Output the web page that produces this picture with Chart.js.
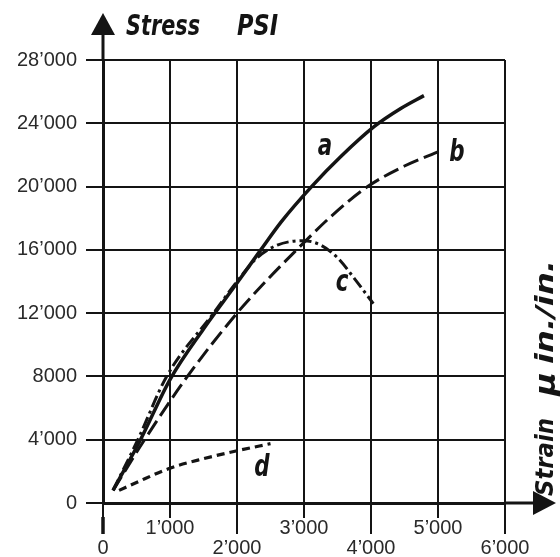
<!DOCTYPE html>
<html><head><meta charset="utf-8">
<script src="https://cdn.jsdelivr.net/npm/chart.js@4/dist/chart.umd.min.js"></script>
<style>html,body{margin:0;padding:0;background:#fff}canvas{display:block}</style>
</head><body>
<canvas id="c" width="560" height="557"></canvas>
<script>
// ---- data ----
const xTickLabels = ['0', '1’000', '2’000', '3’000', '4’000', '5’000', '6’000'];
const xTickRow = [1, 0, 1, 0, 1, 0, 1];   // 0 = upper row, 1 = lower row (staggered labels)
const yTickLabels = ['0', '4’000', '8000', '12’000', '16’000', '20’000', '24’000', '28’000'];
const strainA = [150, 560, 1000, 1500, 2000, 2355, 2660, 3113, 3550, 4050, 4450, 4790];
const stressA = [800, 4000, 7800, 11000, 13900, 16000, 17770, 20000, 21900, 23800, 24950, 25750];
const strainB = [150, 620, 1260, 2000, 2450, 2890, 3400, 3950, 4500, 5030];
const stressB = [800, 4000, 8000, 12000, 14100, 16000, 18100, 20000, 21300, 22250];
const strainC = [150, 520, 950, 1650, 2000, 2300, 2600, 2990, 3250, 3500, 3750, 4035];
const stressC = [800, 4000, 8000, 12000, 14000, 15500, 16300, 16580, 16300, 15500, 14200, 12600];
const strainD = [240, 500, 1000, 1500, 2000, 2500];
const stressD = [800, 1300, 2200, 2800, 3300, 3750];
const curveNames = ['a', 'b', 'c', 'd'];
const curveNameStrain = [3313, 5284, 3567, 2373];
const curveNameStress = [22500, 22100, 13900, 2210];

const pts = (xs, ys) => xs.map((x, i) => ({x: x, y: ys[i]}));
const INK = '#141414';
const LABEL_INK = '#2a2a2a';
const FONT_HAND = '"DejaVu Sans Condensed", "DejaVu Sans", sans-serif';
const FONT_TICK = '"Liberation Sans", Arial, sans-serif';

function fitText(ctx, text, x, y, w, font) {
  ctx.save();
  ctx.font = font;
  const m = ctx.measureText(text).width;
  ctx.translate(x, y);
  ctx.scale(w / m, 1);
  ctx.fillText(text, 0, 0);
  ctx.restore();
}

const decor = {
  id: 'decor',
  afterDraw(chart) {
    const ctx = chart.ctx, xs = chart.scales.x, ys = chart.scales.y;
    const L = xs.getPixelForValue(0), R = xs.getPixelForValue(6000);
    const B = ys.getPixelForValue(0), T = ys.getPixelForValue(28000);
    ctx.save();
    ctx.strokeStyle = INK; ctx.fillStyle = INK; ctx.lineCap = 'butt';
    // axis extensions
    ctx.lineWidth = 3;
    ctx.beginPath();
    ctx.moveTo(L, T); ctx.lineTo(L, T - 26);
    ctx.moveTo(R, B); ctx.lineTo(R + 30, B);
    ctx.stroke();
    // longer ticks under lower-row labels
    for (let i = 0; i < xTickLabels.length; i++) {
      if (xTickRow[i] === 1) {
        const px = xs.getPixelForValue(i * 1000);
        ctx.lineWidth = i === 0 ? 3.5 : 2;
        ctx.beginPath(); ctx.moveTo(px, B + 14); ctx.lineTo(px, B + 31); ctx.stroke();
      }
    }
    // staggered x tick labels
    ctx.font = '20px ' + FONT_TICK;
    ctx.textAlign = 'center'; ctx.textBaseline = 'alphabetic';
    ctx.fillStyle = LABEL_INK;
    for (let i = 0; i < xTickLabels.length; i++) {
      const px = xs.getPixelForValue(i * 1000);
      ctx.fillText(xTickLabels[i], px, xTickRow[i] === 0 ? B + 31 : B + 51);
    }
    ctx.fillStyle = INK;
    // arrow heads
    ctx.beginPath();
    ctx.moveTo(L - 12, T - 25); ctx.lineTo(L + 12, T - 25); ctx.lineTo(L, T - 47); ctx.closePath(); ctx.fill();
    ctx.beginPath();
    ctx.moveTo(R + 28, B - 12); ctx.lineTo(R + 28, B + 12); ctx.lineTo(R + 51, B); ctx.closePath(); ctx.fill();
    // axis titles
    ctx.textBaseline = 'alphabetic'; ctx.textAlign = 'left';
    fitText(ctx, 'Stress', 126, 35, 74, 'italic bold 28px ' + FONT_HAND);
    fitText(ctx, 'PSI', 237, 35, 41, 'italic bold 28px ' + FONT_HAND);
    ctx.save();
    ctx.translate(553, 496);
    ctx.rotate(-Math.PI / 2);
    fitText(ctx, 'Strain', 0, 0, 78, 'italic bold 25px ' + FONT_HAND);
    fitText(ctx, 'μ', 100, 2, 24, 'italic bold 28px ' + FONT_HAND);
    fitText(ctx, 'in./in.', 132, 0, 104, 'italic bold 25px ' + FONT_HAND);
    ctx.restore();
    // curve names
    ctx.textAlign = 'center'; ctx.textBaseline = 'middle';
    curveNames.forEach((n, i) => {
      ctx.save();
      ctx.translate(xs.getPixelForValue(curveNameStrain[i]), ys.getPixelForValue(curveNameStress[i]));
      ctx.scale(0.85, 1.1);
      ctx.font = 'italic bold 28px ' + FONT_HAND;
      ctx.fillText(n, 0, 0);
      ctx.restore();
    });
    ctx.restore();
  }
};

const common = {fill: false, pointRadius: 0, borderColor: INK, cubicInterpolationMode: 'monotone', borderCapStyle: 'butt'};

new Chart(document.getElementById('c'), {
  type: 'line',
  data: {
    datasets: [
      Object.assign({label: 'a', data: pts(strainA, stressA), borderWidth: 3.5}, common),
      Object.assign({label: 'b', data: pts(strainB, stressB), borderWidth: 3, borderDash: [16, 6]}, common),
      Object.assign({label: 'c', data: pts(strainC, stressC), borderWidth: 3, borderDash: [12, 4, 3, 4]}, common),
      Object.assign({label: 'd', data: pts(strainD, stressD), borderWidth: 3.2, borderDash: [8, 5]}, common)
    ]
  },
  options: {
    responsive: false, animation: false, devicePixelRatio: 1,
    layout: {padding: {top: 60, right: 55, left: 0, bottom: 0}},
    plugins: {legend: {display: false}, tooltip: {enabled: false}},
    scales: {
      x: {
        type: 'linear', min: 0, max: 6000, position: 'bottom',
        afterFit: s => { s.height = 54; },
        ticks: {stepSize: 1000, autoSkip: false, maxRotation: 0, display: false},
        grid: {color: INK, lineWidth: 2, tickLength: 15, tickColor: INK, tickWidth: 2, drawTicks: true},
        border: {color: INK, width: 3}
      },
      y: {
        min: 0, max: 28000,
        afterFit: s => { s.width = 103; },
        ticks: {
          stepSize: 4000, padding: 9, color: LABEL_INK,
          font: {family: FONT_TICK, size: 20},
          callback: (v, i) => yTickLabels[i]
        },
        grid: {color: INK, lineWidth: 2, tickLength: 17, tickColor: INK, tickWidth: 2},
        border: {color: INK, width: 3}
      }
    }
  },
  plugins: [decor]
});
</script>
</body></html>
